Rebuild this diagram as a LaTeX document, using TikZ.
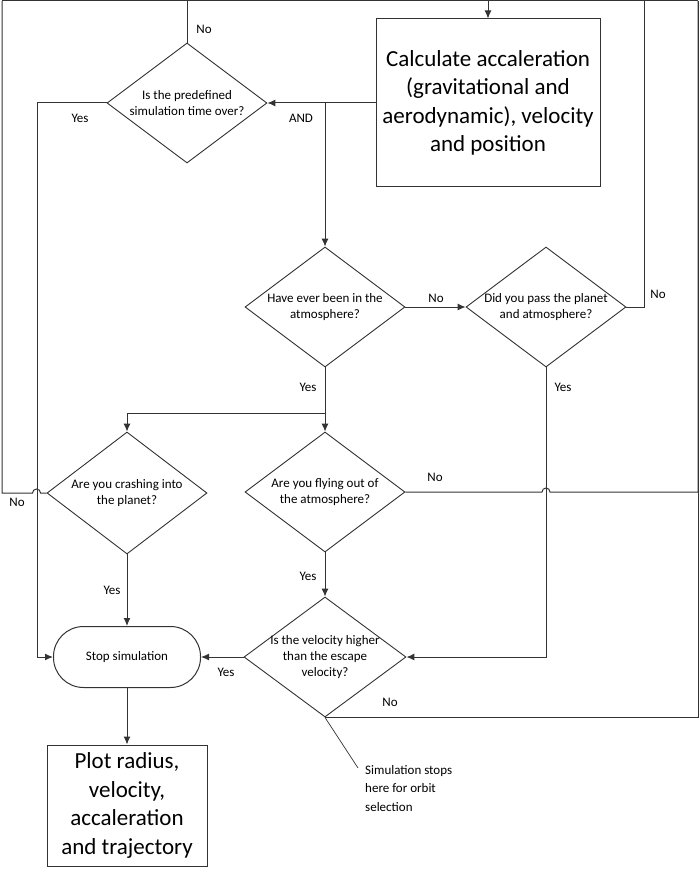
\documentclass[tikz,border=0pt]{standalone}
\usepackage{fontspec}
\setmainfont{Carlito}
\usepackage{tikz}
\usetikzlibrary{shapes,arrows.meta,calc}

\tikzset{
  decision/.style={diamond, draw=black!80, line width=0.9pt, minimum width=160pt, minimum height=120pt, inner sep=0pt},
  process/.style={rectangle, draw=black!80, line width=1pt, align=center, font=\fontsize{23}{28.5}\selectfont},
  qtext/.style={align=center, inner sep=0pt, font=\fontsize{13}{16}\selectfont},
  lbl/.style={inner sep=0pt, font=\fontsize{13}{14}\selectfont},
  wire/.style={draw=black!80, line width=1pt},
  flow/.style={wire, -{Latex[length=8pt,width=7pt]}},
}

\begin{document}
\begin{tikzpicture}[x=1pt,y=1pt]
\useasboundingbox (0,0) rectangle (699,-874);

% les boites
\node[process, minimum width=224pt, minimum height=168pt] (calc) at (488,-103) {Calculate accaleration\\(gravitational and\\aerodynamic), velocity\\and position};
\node[process, minimum width=160pt, minimum height=121pt] (plot) at (127,-805.5) {Plot radius,\\velocity,\\accaleration\\and trajectory};
\node[draw=black!80, line width=1pt, rounded corners=30pt, minimum width=147pt, minimum height=61pt, font=\fontsize{13}{14}\selectfont] (stop) at (127,-657) {Stop simulation};

% les losanges
\node[decision] (time) at (187,-103) {};
\node[decision] (have) at (325,-307) {};
\node[decision] (pass) at (546,-307) {};
\node[decision, minimum height=122pt] (crash) at (127,-493) {};
\node[decision] (fly) at (325,-492) {};
\node[decision, minimum width=162pt] (vel) at (325,-657) {};
\node[qtext] (timeT) at (time) {Is the predefined\\simulation time over?};
\node[qtext] (haveT) at (have) {Have ever been in the\\atmosphere?};
\node[qtext] (passT) at (pass) {Did you pass the planet\\and atmosphere?};
\node[qtext] (crashT) at (crash) {Are you crashing into\\the planet?};
\node[qtext] (flyT) at (fly) {Are you flying out of\\the atmosphere?};
\node[qtext] (velT) at (vel) {Is the velocity higher\\than the escape\\velocity?};

% points de passage
\coordinate (topC) at (488,-1);
\coordinate (topL) at (2,-1);
\coordinate (topR) at (698,-1);
\coordinate (topP) at (644,-1);
\coordinate (andJ) at (325,-103);
\coordinate (yesL) at (37,-103);
\coordinate (splitJ) at (325,-413);
\coordinate (noteEnd) at (358,-768);

% retour vers le calcul
\draw[wire] (topL) -- (topR);
\draw[flow] (topC) -- (calc.north);
\draw[wire] (time.north) -- (time.north |- topC);
\draw[wire] (crash.west) -- ++(-6,0) arc[start angle=0,end angle=180,radius=4] -- (topL |- crash.west) -- (topL);
\draw[wire] (fly.east) -- ($(pass.south |- fly.east)+(-4,0)$) arc[start angle=180,end angle=0,radius=4] -- (topR |- fly.east) -- (topR);
\draw[wire] (vel.south) -- (topR |- vel.south) -- (topR);
\draw[wire] (pass.east) -| (topP);

% le reste
\draw[flow] (calc.west) -- (time.east);
\draw[flow] (andJ) -- (have.north);
\draw[flow] (time.west) -- (yesL) |- (stop.west);
\draw[flow] (have.east) -- (pass.west);
\draw[wire] (have.south) -- (splitJ);
\draw[flow] (splitJ) -| (crash.north);
\draw[flow] (splitJ) -- (fly.north);
\draw[flow] (pass.south) |- (vel.east);
\draw[flow] (crash.south) -- (stop.north);
\draw[flow] (fly.south) -- (vel.north);
\draw[flow] (vel.west) -- (stop.east);
\draw[flow] (stop.south) -- (plot.north);
\draw[wire, line width=0.7pt] (vel.south) -- (noteEnd);
\node[anchor=north west, align=left, inner sep=0pt, font=\fontsize{13}{18.5}\selectfont] (note) at (365,-765) {Simulation stops\\here for orbit\\selection};

\foreach \X/\Y/\Txt [count=\i] in {204/-29/No, 80/-118/Yes, 301/-118/AND, 436/-298/No, 658/-294/No,
	308/-387/Yes, 563/-387/Yes, 17/-502/No, 308/-576/Yes, 435/-477/No, 112/-590/Yes, 226/-672/Yes, 390/-702/No}{
    \node[lbl] (lbl\i) at (\X,\Y) {\Txt};
}
\end{tikzpicture}
\end{document}
